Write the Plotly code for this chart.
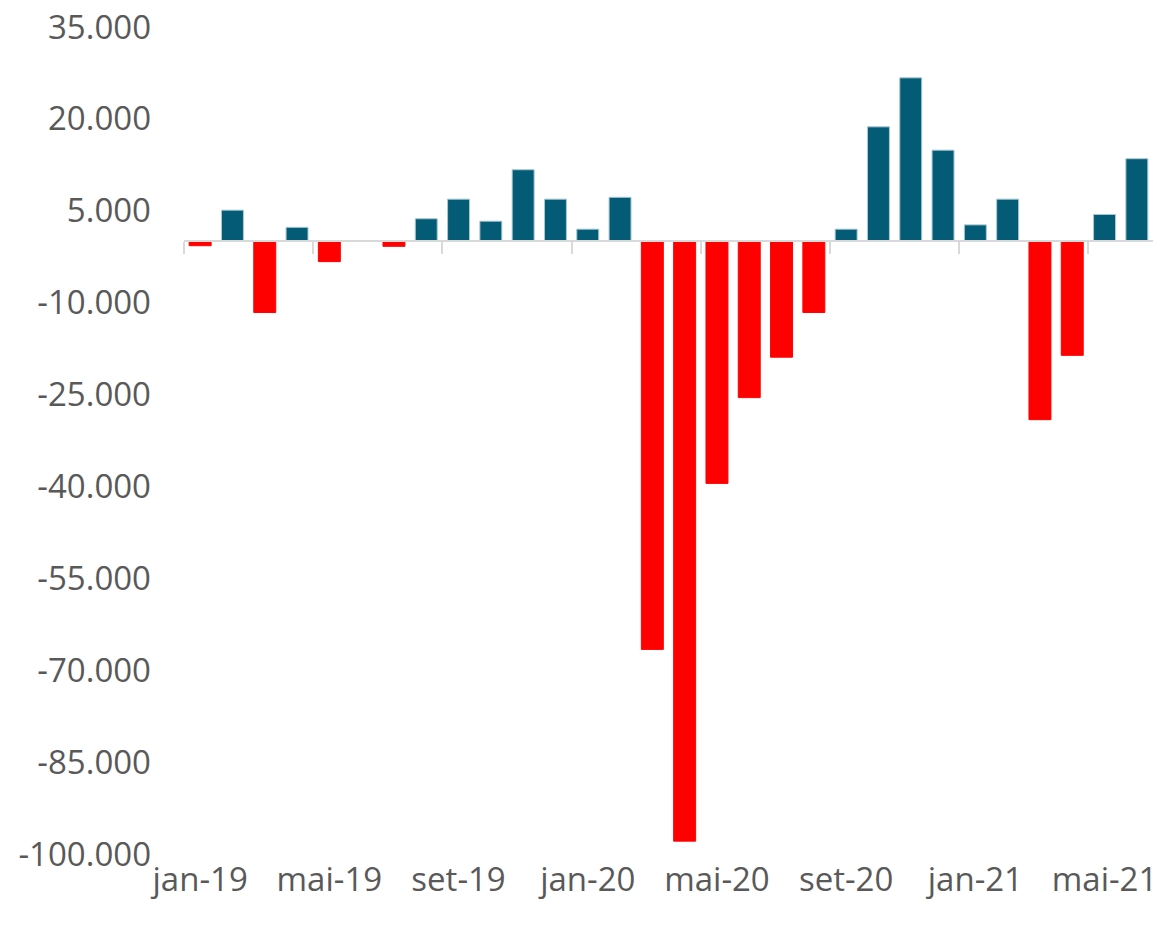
import plotly.graph_objects as go

months = ["jan-19", "fev-19", "mar-19", "abr-19", "mai-19", "jun-19", "jul-19", "ago-19",
          "set-19", "out-19", "nov-19", "dez-19", "jan-20", "fev-20", "mar-20", "abr-20",
          "mai-20", "jun-20", "jul-20", "ago-20", "set-20", "out-20", "nov-20", "dez-20",
          "jan-21", "fev-21", "mar-21", "abr-21", "mai-21", "jun-21"]
values = [-700, 5100, -11600, 2300, -3300, 150, -800, 3700,
          6900, 3300, 11700, 6900, 2000, 7200, -66600, -97900,
          -39500, -25500, -18900, -11600, 2000, 18700, 26700, 14900,
          2700, 6900, -29100, -18600, 4400, 13500]
label_every = 4
y_ticks = [-100000, -85000, -70000, -55000, -40000, -25000, -10000, 5000, 20000, 35000]
y_tick_labels = ["-100.000", "-85.000", "-70.000", "-55.000", "-40.000", "-25.000",
                 "-10.000", "5.000", "20.000", "35.000"]

BLUE = "#045B76"
RED = "#FF0000"
colors = [RED if v < 0 else BLUE for v in values]
outlines = [RED if v < 0 else "#A9C9D3" for v in values]
idx = list(range(len(months)))
y_min, y_max = min(y_ticks), max(y_ticks)

fig = go.Figure()
fig.add_trace(go.Bar(
    x=idx, y=values,
    marker=dict(color=colors, line=dict(color=outlines, width=1)),
    showlegend=False,
))
# helper trace for the zero-crossing category axis line
fig.add_trace(go.Scatter(x=[0], y=[0], xaxis="x2", mode="markers",
                         marker=dict(opacity=0), hoverinfo="skip", showlegend=False))

font = dict(family="Open Sans", size=33, color="#595959")
zero_pos = (0 - y_min) / (y_max - y_min)

fig.update_layout(
    width=1166, height=926,
    margin=dict(l=184, r=13, t=27, b=72, autoexpand=False),
    paper_bgcolor="white", plot_bgcolor="white",
    bargap=0.32,
    font=font,
    xaxis=dict(
        range=[-0.5, len(months) - 0.5],
        tickmode="array",
        tickvals=idx[::label_every],
        ticktext=months[::label_every],
        showline=False, showgrid=False, zeroline=False, ticks="",
        tickfont=font, ticklabelstandoff=3, automargin=False,
        ticklabeloverflow="allow",
    ),
    xaxis2=dict(
        overlaying="x", matches="x", anchor="free", position=zero_pos,
        showline=True, linecolor="#D9D9D9", linewidth=2,
        ticks="outside", ticklen=12, tickwidth=2, tickcolor="#D9D9D9",
        tickmode="array",
        tickvals=[i - 0.5 for i in idx[::label_every]],
        showticklabels=False, showgrid=False, zeroline=False, automargin=False,
    ),
    yaxis=dict(
        range=[y_min, y_max],
        tickmode="array", tickvals=y_ticks, ticktext=y_tick_labels,
        showgrid=False, zeroline=False, showline=False, ticks="",
        tickfont=font, ticklabelstandoff=32, automargin=False,
        ticklabeloverflow="allow",
    ),
)

fig.write_html("out.html",
               config={"displayModeBar": False},
               post_script="document.body.style.margin='0';document.body.style.overflow='hidden';")
